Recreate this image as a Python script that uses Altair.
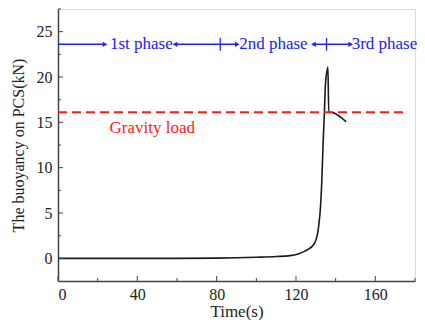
import altair as alt
import pandas as pd

# curve data
time_s = [0, 20, 40, 60, 80, 90, 100, 110, 117, 121, 124, 126, 128, 129.3, 130.3,
          131, 131.5, 132.3, 133, 133.7, 134.3, 134.8, 135.5, 136.1, 136.5,
          138, 139.5, 141, 143, 145.3]
buoyancy = [0, 0, 0, 0, 0.02, 0.06, 0.12, 0.2, 0.3, 0.48, 0.74, 0.98, 1.29, 1.65, 2.2,
            2.9, 3.7, 5.5, 8.5, 12.9, 16.0, 19.0, 20.5, 21.1, 16.1,
            16.1, 16.0, 15.8, 15.5, 15.05]

gravity_load = 16.1
gravity_x = [0, 175]

phase_y = 23.6
seg_start = [0, 59, 128.8]
seg_end = [23.7, 90.4, 147.6]
arrow_x = [23.7, 59, 90.4, 128.8, 147.6]
arrow_shape = ["triangle-right", "triangle-left", "triangle-right", "triangle-left", "triangle-right"]
divider_x = [81.8, 135.4]
phase_labels = ["1st phase", "2nd phase", "3rd phase"]
phase_label_x = [42, 108.6, 164.6]

x_major = [0, 40, 80, 120, 160]
x_minor = [20, 60, 100, 140, 180]
y_major = [0, 5, 10, 15, 20, 25]
y_minor = [2.5, 7.5, 12.5, 17.5, 22.5, 27.5]

W, H = 357, 272
FONT = "Liberation Serif"

xs = alt.Scale(domain=[0, 180], nice=False, zero=False)
ys = alt.Scale(domain=[-2.5, 27.5], nice=False, zero=False)

curve_df = pd.DataFrame({"t": time_s, "f": buoyancy})
curve = alt.Chart(curve_df).mark_line(color="#1a1a1a", strokeWidth=1.6, interpolate="monotone").encode(
    x=alt.X("t:Q", scale=xs, title="Time(s)",
            axis=alt.Axis(values=x_major, ticks=False, grid=False, labelPadding=5,
                          titlePadding=1, domainColor="#444", domainWidth=1.5,
                          labelFont=FONT, titleFont=FONT, labelFontSize=16, titleFontSize=17,
                          titleFontWeight="normal", labelColor="#222", titleColor="#222")),
    y=alt.Y("f:Q", scale=ys, title="The buoyancy on PCS(kN)",
            axis=alt.Axis(values=y_major, ticks=False, grid=False, labelPadding=6,
                          titlePadding=10, domainColor="#444", domainWidth=1.5,
                          labelFont=FONT, titleFont=FONT, labelFontSize=16, titleFontSize=16,
                          titleFontWeight="normal", labelColor="#222", titleColor="#222")),
)

grav_df = pd.DataFrame({"x0": [gravity_x[0]], "x1": [gravity_x[1]], "y": [gravity_load]})
grav = alt.Chart(grav_df).mark_rule(color="#ff1a1a", strokeWidth=2, strokeDash=[9, 5]).encode(
    x=alt.X("x0:Q", scale=xs), x2="x1:Q", y=alt.Y("y:Q", scale=ys))

grav_text = alt.Chart(pd.DataFrame({"x": [47.5], "y": [14.4], "s": ["Gravity load"]})).mark_text(
    font=FONT, fontSize=17, color="#ff1a1a", align="center", baseline="middle").encode(
    x=alt.X("x:Q", scale=xs), y=alt.Y("y:Q", scale=ys), text="s:N")

seg_df = pd.DataFrame({"x0": seg_start, "x1": seg_end, "y": [phase_y] * 3})
segs = alt.Chart(seg_df).mark_rule(color="#2020ff", strokeWidth=1.5).encode(
    x=alt.X("x0:Q", scale=xs), x2="x1:Q", y=alt.Y("y:Q", scale=ys))

arr_df = pd.DataFrame({"x": arrow_x, "y": [phase_y] * 5, "shape": arrow_shape})
arrows = alt.Chart(arr_df).mark_point(filled=True, color="#2020ff", size=28, opacity=1).encode(
    x=alt.X("x:Q", scale=xs), y=alt.Y("y:Q", scale=ys),
    shape=alt.Shape("shape:N", scale=None, legend=None))

div_df = pd.DataFrame({"x": divider_x, "y0": [phase_y - 0.7] * 2, "y1": [phase_y + 0.7] * 2})
divs = alt.Chart(div_df).mark_rule(color="#2020ff", strokeWidth=1.3).encode(
    x=alt.X("x:Q", scale=xs), y=alt.Y("y0:Q", scale=ys), y2="y1:Q")

ptxt_df = pd.DataFrame({"x": phase_label_x, "y": [phase_y] * 3, "s": phase_labels})
ptxt = alt.Chart(ptxt_df).mark_text(font=FONT, fontSize=17, color="#2020ff",
                                     align="center", baseline="middle").encode(
    x=alt.X("x:Q", scale=xs), y=alt.Y("y:Q", scale=ys), text="s:N")

xt_major = alt.Chart(pd.DataFrame({"x": x_major})).mark_rule(color="#444", strokeWidth=1).encode(
    x=alt.X("x:Q", scale=xs), y=alt.value(H), y2=alt.value(H - 5))
xt_minor = alt.Chart(pd.DataFrame({"x": x_minor})).mark_rule(color="#444", strokeWidth=1).encode(
    x=alt.X("x:Q", scale=xs), y=alt.value(H), y2=alt.value(H - 3))
yt_major = alt.Chart(pd.DataFrame({"y": y_major})).mark_rule(color="#444", strokeWidth=1).encode(
    y=alt.Y("y:Q", scale=ys), x=alt.value(0), x2=alt.value(5))
yt_minor = alt.Chart(pd.DataFrame({"y": y_minor})).mark_rule(color="#444", strokeWidth=1).encode(
    y=alt.Y("y:Q", scale=ys), x=alt.value(0), x2=alt.value(3))

chart = alt.layer(curve, grav, grav_text, segs, arrows, divs, ptxt,
                  xt_major, xt_minor, yt_major, yt_minor).properties(
    width=W, height=H,
    autosize=alt.AutoSizeParams(type="none"),
    padding={"left": 50, "top": 1, "right": 2, "bottom": 39},
).configure_view(stroke=None).configure(background="white")

chart.save("out.html", embed_options={"renderer": "svg", "actions": False})
